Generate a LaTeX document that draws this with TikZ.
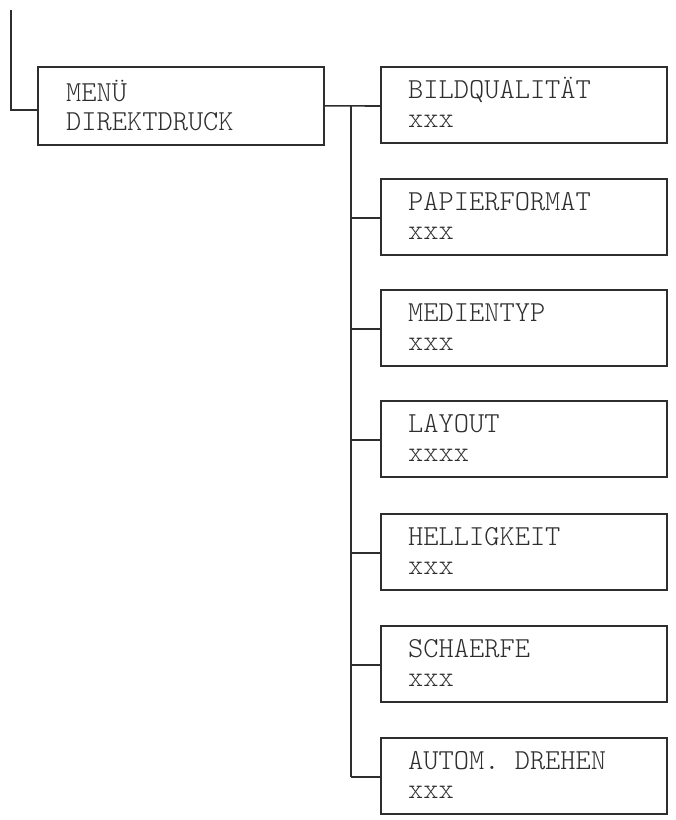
\documentclass[tikz,border=0pt]{standalone}
\usepackage{fontspec}
\setmonofont{Latin Modern Mono Light}
\definecolor{ink}{HTML}{2E2E2E}
\begin{document}
\begin{tikzpicture}[x=1pt,y=-1pt,
  conn/.style={draw=ink,line width=1.6pt},
  menubox/.style={draw=ink,line width=1.6pt,minimum width=286pt,minimum height=76pt,inner sep=0pt,anchor=north west},
  lbl/.style={font=\ttfamily\fontsize{29}{29}\selectfont,text=ink,anchor=base west,inner sep=0pt}]
\useasboundingbox (0,0) rectangle (676,820);
% main menu box
\node[menubox,minimum height=78pt] (menu) at (37,66) {};
\node[lbl] (menuA) at (66,101) {MENÜ};
\node[lbl] (menuB) at (66,130) {DIREKTDRUCK};
% incoming line
\coordinate (top) at (11,10);
\coordinate (tj) at (11,110);
\draw[conn] (top) -- (tj) -- (tj -| menu.west);
% trunk
\coordinate (tr) at (351,0);
% child boxes
\foreach \i/\t/\a/\b in {1/66/BILDQUALITÄT/xxx,2/178/PAPIERFORMAT/xxx,3/289/MEDIENTYP/xxx,4/400/LAYOUT/xxxx,5/513/HELLIGKEIT/xxx,6/625/SCHAERFE/xxx,7/737/AUTOM. DREHEN/xxx}{
  \node[menubox] (b\i) at (380,\t) {};
  \node[lbl] (b\i a) at (408,\t+32) {\a};
  \node[lbl] (b\i b) at (408,\t+61) {\b};
  \coordinate (br\i) at (380,\t+40);
}
\draw[conn] (menu.east) -- (br1);
\draw[conn] (tr |- br1) -- (tr |- br7);
\foreach \i in {2,...,7}{
  \draw[conn] (tr |- br\i) -- (br\i);
}
\end{tikzpicture}
\end{document}
